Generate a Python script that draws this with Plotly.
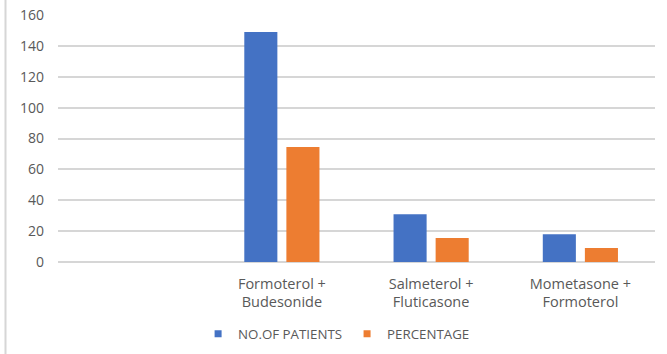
import plotly.graph_objects as go

# Inhaler combinations (first slot intentionally left blank)
categories = ["", "Formoterol +<br>Budesonide", "Salmeterol +<br>Fluticasone", "Mometasone +<br>Formoterol"]
patients = [None, 149, 31, 18]
percentage = [None, 74.5, 15.5, 9]
y_ticks = [0, 20, 40, 60, 80, 100, 120, 140, 160]
series_names = ["NO.OF PATIENTS", "PERCENTAGE"]

positions = list(range(len(categories)))

BLUE = "#4472C4"
ORANGE = "#ED7D31"
GRID = "#D6D6D6"
TEXT = "#595959"
FONT = "Open Sans, Liberation Sans, sans-serif"

fig = go.Figure()
for vals, name, col in [(patients, series_names[0], BLUE), (percentage, series_names[1], ORANGE)]:
    fig.add_trace(go.Bar(x=positions, y=vals, name=name, showlegend=False,
                         marker=dict(color=col, line=dict(width=0))))
    # small square legend keys
    fig.add_trace(go.Scatter(x=[None], y=[None], mode="markers", name=name,
                             marker=dict(symbol="square", size=7, color=col)))

W, H = 667, 354
ml, mr, mt, mb = 58, 12, 15, 92

fig.update_layout(
    width=W, height=H,
    margin=dict(l=ml, r=mr, t=mt, b=mb, pad=0, autoexpand=False),
    paper_bgcolor="white", plot_bgcolor="white",
    barmode="group", bargap=0.436, bargroupgap=0.214,
    font=dict(family=FONT, size=14, color=TEXT),
    showlegend=True,
    legend=dict(orientation="h", xref="container", yref="container",
                x=0.297, xanchor="left", y=1 - 334 / H, yanchor="middle",
                font=dict(size=13.3, color=TEXT), itemwidth=30,
                traceorder="normal", bgcolor="rgba(0,0,0,0)"),
    xaxis=dict(
        range=[-0.5, len(categories) - 0.5],
        tickmode="array", tickvals=positions, ticktext=categories,
        showgrid=False, zeroline=False, showline=False, ticks="",
        ticklabelstandoff=11, automargin=False,
        tickfont=dict(size=14.5, color=TEXT),
    ),
    yaxis=dict(
        range=[0, 160], tickmode="array", tickvals=y_ticks,
        showgrid=True, gridcolor=GRID, gridwidth=2,
        zeroline=True, zerolinecolor=GRID, zerolinewidth=2,
        showline=False, ticks="", ticklabelstandoff=13, automargin=False,
        tickfont=dict(size=14, color=TEXT),
    ),
    shapes=[dict(type="line", xref="paper", yref="paper",
                 x0=-(ml - 5.5) / (W - ml - mr), x1=-(ml - 5.5) / (W - ml - mr),
                 y0=-mb / (H - mt - mb), y1=1 + mt / (H - mt - mb),
                 line=dict(color=GRID, width=2))],
)

fig.write_html("out.html")
